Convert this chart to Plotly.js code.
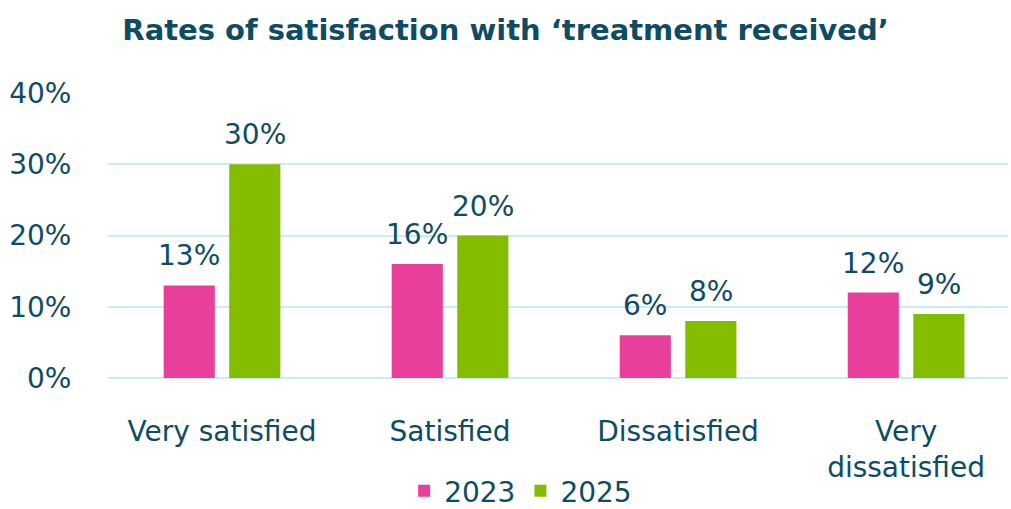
<!DOCTYPE html>
<html>
<head>
<meta charset="utf-8">
<script src="https://cdn.plot.ly/plotly-3.0.1.min.js"></script>
<style>html,body{margin:0;padding:0;background:#fff;}#chart{width:1011px;height:509px;}</style>
</head>
<body>
<div id="chart"></div>
<script>
const categories = ['Very satisfied', 'Satisfied', 'Dissatisfied', 'Very<br>dissatisfied'];
const series2023 = [0.13, 0.16, 0.06, 0.12];
const series2025 = [0.30, 0.20, 0.08, 0.09];
const seriesNames = ['2023', '2025'];
const yTicks = [0, 0.1, 0.2, 0.3, 0.4];

const textColor = '#0f4c63';
const fontFam = 'DejaVu Sans, sans-serif';
const colors = ['#e8409a', '#84bc00'];
const fs = 28;

const traces = [series2023, series2025].map((vals, i) => ({
  type: 'bar',
  name: seriesNames[i],
  x: categories,
  y: vals,
  marker: {color: colors[i]},
  hoverinfo: 'skip'
}));

const offsets = [-32.75, 32.75];
const annotations = [];
[series2023, series2025].forEach((vals, i) => {
  vals.forEach((v, j) => {
    annotations.push({
      x: categories[j], y: v, xref: 'x', yref: 'y',
      text: Math.round(v * 100) + '%',
      showarrow: false, xshift: offsets[i], yanchor: 'bottom', yshift: 11,
      font: {family: fontFam, size: fs, color: textColor}
    });
  });
});

const layout = {
  width: 1011, height: 509,
  margin: {l: 108, r: 3, t: 93, b: 131},
  paper_bgcolor: '#ffffff', plot_bgcolor: '#ffffff',
  font: {family: fontFam, size: fs, color: textColor},
  title: {
    text: '<b>Rates of satisfaction with ‘treatment received’</b>',
    font: {family: fontFam, size: 29, color: textColor},
    x: 0.5, xref: 'container', xanchor: 'center',
    y: 1 - 30 / 509, yref: 'container', yanchor: 'middle'
  },
  barmode: 'group',
  bargap: 0.425,
  bargroupgap: 0.22,
  xaxis: {
    type: 'category',
    range: [-0.5, 3.447],
    showgrid: false, zeroline: false, showline: false,
    ticks: 'outside', ticklen: 28, tickcolor: 'rgba(0,0,0,0)',
    tickfont: {family: fontFam, size: fs, color: textColor}
  },
  yaxis: {
    range: [0, 0.4],
    tickvals: yTicks,
    tickformat: '.0%',
    showgrid: true, gridcolor: '#c9ecfa', gridwidth: 2,
    zeroline: true, zerolinecolor: '#c9ecfa', zerolinewidth: 2,
    showline: false,
    ticks: 'outside', ticklen: 30, tickcolor: 'rgba(0,0,0,0)',
    tickfont: {family: fontFam, size: fs, color: textColor}
  },
  legend: {
    orientation: 'h',
    x: 0.515, xref: 'container', xanchor: 'center',
    y: 18 / 509, yref: 'container', yanchor: 'middle',
    font: {family: fontFam, size: fs, color: textColor},
    itemwidth: 30
  },
  annotations: annotations,
  showlegend: true
};

Plotly.newPlot('chart', traces, layout, {displayModeBar: false, staticPlot: true});
</script>
</body>
</html>
